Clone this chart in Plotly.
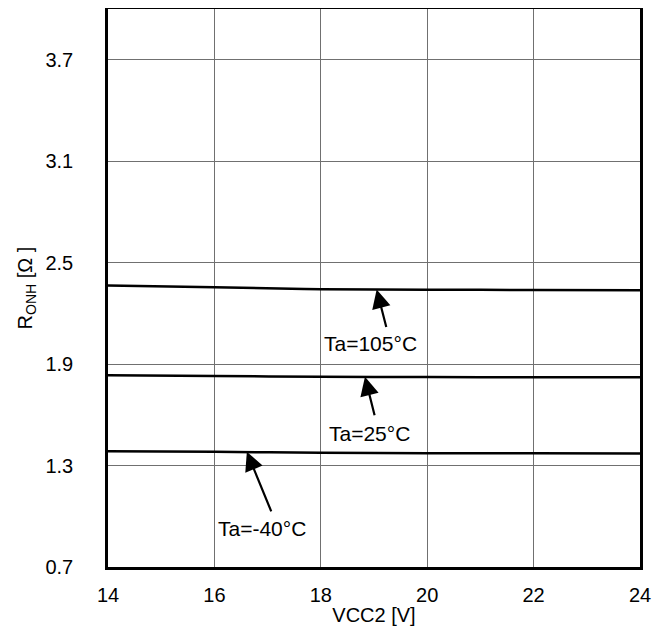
import plotly.graph_objects as go

vcc2 = [14, 16, 18, 20, 22, 24]
r_105 = [2.365, 2.355, 2.343, 2.340, 2.338, 2.336]
r_25 = [1.834, 1.830, 1.825, 1.823, 1.822, 1.822]
r_m40 = [1.385, 1.382, 1.375, 1.373, 1.372, 1.371]

x_ticks = [14, 16, 18, 20, 22, 24]
y_ticks = [0.7, 1.3, 1.9, 2.5, 3.1, 3.7]

FONT = "Liberation Sans, Arial, sans-serif"

fig = go.Figure()
for ys, name in [(r_105, "Ta=105°C"), (r_25, "Ta=25°C"), (r_m40, "Ta=-40°C")]:
    fig.add_trace(go.Scatter(x=vcc2, y=ys, mode="lines", name=name,
                             line=dict(color="black", width=2.5), line_shape="spline",
                             showlegend=False))

# arrows (tip on curve) and labels
arrows = [
    (19.05, 2.341, 10, 39),
    (18.83, 1.825, 10, 40),
    (16.61, 1.381, 25, 61),
]
for x, y, ax, ay in arrows:
    fig.add_annotation(x=x, y=y, ax=ax, ay=ay, axref="pixel", ayref="pixel",
                       text="", showarrow=True, arrowhead=2, arrowsize=1.7,
                       arrowwidth=2.2, arrowcolor="black")

labels = [
    (18.94, 2.023, "Ta=105°C"),
    (18.91, 1.491, "Ta=25°C"),
    (16.89, 0.930, "Ta=-40°C"),
]
for x, y, t in labels:
    fig.add_annotation(x=x, y=y, text=t, showarrow=False,
                       font=dict(family=FONT, size=21, color="black"))

fig.update_layout(
    width=660, height=635,
    margin=dict(l=100, r=28, t=1, b=76, autoexpand=False),
    paper_bgcolor="white", plot_bgcolor="white",
    font=dict(family=FONT, size=20, color="black"),
    xaxis=dict(range=[14, 24], tickvals=x_ticks, ticktext=[str(v) for v in x_ticks],
               showgrid=True, gridcolor="#707070", gridwidth=1,
               showline=True, linecolor="black", linewidth=2.5, mirror=True,
               ticks="", ticklabelstandoff=8, zeroline=False, automargin=False,
               tickfont=dict(size=20),
               title=dict(text="VCC2 [V]", standoff=4, font=dict(size=20))),
    yaxis=dict(range=[0.7, 4.0], tickvals=y_ticks, ticktext=[f"{v:.1f}" for v in y_ticks],
               showgrid=True, gridcolor="#707070", gridwidth=1,
               showline=True, linecolor="black", linewidth=2.5, mirror=True,
               ticks="", ticklabelstandoff=28, zeroline=False, automargin=False,
               tickfont=dict(size=20),
               title=dict(text="R<sub>ONH</sub> [Ω ]", standoff=8, font=dict(size=20))),
)

fig.write_html("out.html")
